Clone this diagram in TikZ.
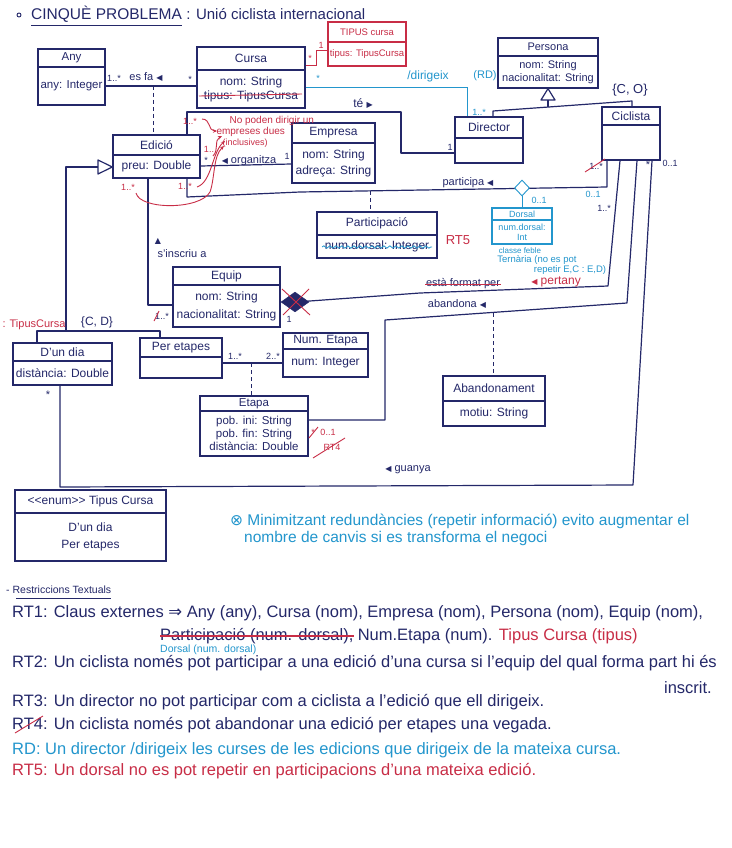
\documentclass[tikz,border=0pt]{standalone}
\usepackage{fontspec}
\setmainfont{Liberation Sans}
\newfontfamily\symf{DejaVu Sans}
\usetikzlibrary{fit,shapes.geometric,arrows.meta,decorations.pathmorphing}
\definecolor{ink}{RGB}{36,40,105}
\definecolor{redink}{RGB}{200,45,70}
\definecolor{cyanink}{RGB}{35,150,205}
\newcommand{\myBox}{\fontsize{12}{14}\selectfont}
\newcommand{\myLbl}{\fontsize{11}{13}\selectfont}
\newcommand{\myMult}{\fontsize{9}{10}\selectfont}
\newcommand{\myRT}{\fontsize{16.5}{18}\selectfont}
\newcommand{\tril}{{\symf\fontsize{8}{8}\selectfont ◀}}
\newcommand{\trir}{{\symf\fontsize{8}{8}\selectfont ▶}}
\newcommand{\triu}{{\symf\fontsize{8}{8}\selectfont ▲}}
\tikzset{
 conn/.style={draw=ink, line width=1.2pt, line join=round},
 rconn/.style={draw=redink, line width=0.9pt},
 cconn/.style={draw=cyanink, line width=0.9pt},
 assocdash/.style={draw=ink, line width=1pt, dash pattern=on 4pt off 3pt},
 lbl/.style={text=ink, font=\myLbl, inner sep=0.5pt},
 mult/.style={text=ink, font=\myMult, inner sep=0.5pt},
 rlbl/.style={text=redink, font=\myMult, inner sep=0.5pt},
 clbl/.style={text=cyanink, font=\myMult, inner sep=0.5pt},
 rtline/.style={text=ink, font=\myRT, anchor=west, inner sep=0pt},
 arr/.style={rconn, -{Stealth[length=4pt,width=3.5pt]}},
}
\newcommand{\umlclass}[9][ink]{%
  \node[draw=#1, line width=1.3pt, inner sep=0pt, fit={(#3,#4)(#5,#6)}] (#2) {};
  \draw[draw=#1, line width=1.2pt] (#3,#7) -- (#5,#7);
  \node[text=#1, font=\myBox, inner sep=0pt] (#2-t) at ({(#3+#5)/2},{(#4+#7)/2}) {#8};
  \node[text=#1, font=\myBox, align=center, inner sep=0pt] (#2-a) at ({(#3+#5)/2},{(#7+#6)/2}) {#9};
}
\begin{document}
\begin{tikzpicture}[x=1pt,y=-1pt]
\fill[white] (0,0) rectangle (731,848);
\useasboundingbox (0,0) rectangle (731,848);

% ---------- title
\node[circle, draw=ink, line width=0.9pt, minimum size=4pt, inner sep=0pt] (bul) at (19,15) {};
\node[anchor=west, text=ink, font=\fontsize{15.5}{17}\selectfont, inner sep=0pt] (ttl) at (31,14) {CINQUÈ PROBLEMA};
\draw[conn, line width=0.9pt] ([yshift=-3pt]ttl.south west) -- ([yshift=-3pt]ttl.south east);
\node[anchor=west, text=ink, font=\fontsize{15}{17}\selectfont, inner sep=0pt] (ttl2) at ([xshift=4pt]ttl.east) {: Unió ciclista internacional};

% ---------- classes
\begin{scope}
\renewcommand{\myBox}{\fontsize{11.5}{14}\selectfont}
\umlclass{Any}{38}{49}{105}{105}{67}{Any}{any: Integer}
\end{scope}
\umlclass{Cursa}{197}{47}{305}{108}{70}{Cursa}{nom: String\\tipus: TipusCursa}
\begin{scope}
\renewcommand{\myBox}{\fontsize{9.5}{11}\selectfont}
\umlclass[redink]{TipusC}{328}{22}{406}{66}{42}{TIPUS cursa}{tipus: TipusCursa}
\end{scope}
\begin{scope}
\renewcommand{\myBox}{\fontsize{11}{13}\selectfont}
\umlclass{Persona}{498}{38}{598}{88}{56}{Persona}{nom: String\\nacionalitat: String}
\end{scope}
\umlclass{Director}{455}{117}{523}{163}{138}{Director}{}
\umlclass{Ciclista}{602}{107}{660}{160}{125}{Ciclista}{}
\umlclass{Edicio}{113}{135}{200}{178}{155}{Edició}{preu: Double}
\umlclass{Empresa}{292}{123}{375}{183}{143}{Empresa}{nom: String\\[2pt]adreça: String}
\umlclass{Particip}{317}{212}{437}{258}{235}{Participació}{num.dorsal: Integer}
\begin{scope}
\renewcommand{\myBox}{\fontsize{9}{10}\selectfont}
\umlclass[cyanink]{Dorsal}{492}{208}{552}{244}{220}{Dorsal}{num.dorsal:\\Int}
\end{scope}
\umlclass{Equip}{173}{267}{280}{327}{285}{Equip}{nom: String\\[4pt]nacionalitat: String}
\umlclass{Dundia}{13}{343}{112}{385}{361}{D'un dia}{distància: Double}
\umlclass{Peretapes}{140}{338}{222}{378}{357}{Per etapes}{}
\umlclass{NumEtapa}{283}{333}{368}{377}{349}{Num. Etapa}{num: Integer}
\begin{scope}
\renewcommand{\myBox}{\fontsize{11.5}{13}\selectfont}
\umlclass{Etapa}{200}{396}{308}{456}{411}{Etapa}{pob. ini: String\\pob. fin: String\\distància: Double}
\end{scope}
\umlclass{Abandon}{443}{376}{545}{426}{401}{Abandonament}{motiu: String}
\begin{scope}
\renewcommand{\myBox}{\fontsize{12}{15}\selectfont}
\umlclass{Enum}{15}{490}{166}{561}{513}{<{}<enum>{}> Tipus Cursa}{D'un dia\\[2pt]Per etapes}
\end{scope}

% ---------- connectors
% Any - Cursa (es fa) with association class Edicio
\draw[conn] (Any.east |- 0,86) -- (Cursa.west |- 0,86);
\coordinate (esfa) at (153,86);
\draw[assocdash] (esfa) -- (Edicio.north -| esfa);
% Cursa - TipusCursa (red)
\draw[rconn] (Cursa.east |- 0,65) -- (316,65) -- (316,50) -- (TipusC.west |- 0,50);
% /dirigeix (cyan)
\draw[cconn] (Cursa.east |- 0,87) -- (467,87) -- (Director.north -| 467,0);
% generalization Persona
\draw[conn] (Director.north -| 493,0) -- (493,111) -- (632,101) -- (Ciclista.north -| 632,0);
\draw[conn] (548,100) -- (548,107);
\draw[conn, fill=white] (Persona.south -| 548,0) -- (541,100) -- (555,100) -- cycle;
% te
\draw[conn] (Edicio.north -| 187,0) -- (187,112) -- (401,112) -- (401,153) -- (Director.west |- 0,153);
% organitza
\draw[conn] (Edicio.east |- 0,166) -- (Empresa.west |- 0,164);
% participa
\draw[conn] (Edicio.south -| 187,0) -- (187,197) -- (300,192) -- (607,187) -- (Ciclista.south -| 607,0);
\draw[assocdash] (370,191) -- (Particip.north -| 370,0);
\node[diamond, draw=cyanink, line width=0.9pt, fill=white, minimum width=15pt, minimum height=16pt, inner sep=0pt] (dmd) at (522,188) {};
\draw[cconn] (dmd.south) -- (Dorsal.north -| dmd.south);
% s'inscriu a
\draw[conn] (Edicio.south -| 148,0) -- (148,305) -- (Equip.west |- 0,305);
% generalization Edicio
\draw[conn] (98,167) -- (66,167) -- (66,331);
\draw[conn] (Dundia.north -| 37,0) -- (37,331) -- (160,331) -- (Peretapes.north -| 160,0);
\draw[conn, fill=white] (Edicio.west |- 0,167) -- (98,160) -- (98,174) -- cycle;
% per etapes - num etapa
\draw[conn] (Peretapes.east |- 0,363) -- (NumEtapa.west |- 0,363);
\draw[assocdash] (251,363) -- (Etapa.north -| 251,0);
% abandona
\draw[conn] (Etapa.east |- 0,420) -- (385,420) -- (385,320) -- (627,303) -- (Ciclista.south -| 637,0);
\draw[assocdash] (493,313) -- (Abandon.north -| 493,0);
% esta format per / pertany
\draw[conn] (296,302) -- (420,293) -- (608,286) -- (Ciclista.south -| 620,0);
\node[diamond, draw=ink, fill=ink, minimum width=28pt, minimum height=20pt, inner sep=0pt] (comp) at (295,302) {};
\draw[rconn] (282,289) -- (310,315);
\draw[rconn] (283,315) -- (309,289);
% guanya
\draw[conn] (Dundia.south -| 60,0) -- (60,487) -- (633,485) -- (Ciclista.south -| 652,0);

% ---------- labels
\node[mult] (m1) at (114,78) {1..*};
\node[lbl] (esfal) at (146,77) {es fa \tril};
\node[mult] (m2) at (190,79) {*};
\node[rlbl] (m3) at (321,45) {1};
\node[rlbl] (m4) at (310,58) {*};
\draw[rconn] (199,96) -- (302,94);
\node[clbl] (m5) at (318,78) {*};
\node[text=cyanink, font=\fontsize{12}{14}\selectfont] (dirl) at (428,76) {/dirigeix};
\node[text=cyanink, font=\fontsize{11}{13}\selectfont] (rdl) at (485,76) {(RD)};
\node[clbl] (m6) at (479,112) {1..*};
\node[text=ink, font=\fontsize{13}{15}\selectfont] (co) at (630,90) {\{C, O\}};
\node[lbl, font=\fontsize{12}{14}\selectfont] (tel) at (363,104) {té \trir};
\node[mult] (m7) at (450,147) {1};
\node[rlbl] (m8) at (190,121) {1..*};
\node[text=redink, font=\fontsize{10}{12}\selectfont, anchor=west] (note1) at (226,121) {No poden dirigir un};
\node[text=redink, font=\fontsize{10}{12}\selectfont, anchor=west] (note2) at (213,132) {empreses dues};
\node[text=redink, font=\fontsize{9}{11}\selectfont, anchor=west] (note3) at (219,143) {(inclusives)};
\node[rlbl] (m9) at (209,149) {1..};
\node[mult] (m10) at (206,160) {*};
\node[lbl] (orgl) at (249,161) {\tril\ organitza};
\node[mult] (m11) at (287,156) {1};
\node[rlbl] (m12) at (185,186) {1..*};
\node[rlbl] (m13) at (128,187) {1..*};
\draw[arr] (202,119) .. controls (211,119) and (208,131) .. (217,131);
\draw[arr] (213,156) .. controls (219,150) and (214,140) .. (222,136);
\draw[arr] (197,187) .. controls (212,182) and (212,152) .. (225,141);
\draw[arr] (136,193) .. controls (140,210) and (200,210) .. (210,192) .. controls (215,178) and (213,156) .. (224,146);
\node[lbl] (partl) at (468,183) {participa \tril};
\node[mult] (m14) at (596,166) {1..*};
\draw[rconn] (585,172) -- (605,159);
\node[mult, font=\fontsize{11}{12}\selectfont] (m15) at (648,165) {*};
\node[mult] (m16) at (670,163) {0..1};
\node[clbl] (m17) at (593,194) {0..1};
\node[clbl] (m18) at (539,200) {0..1};
\node[mult] (m19) at (604,208) {1..*};
\node[text=redink, font=\fontsize{13}{15}\selectfont] (rt5l) at (458,240) {RT5};
\draw[cyanink, line width=0.8pt, decorate, decoration={snake, amplitude=1.2pt, segment length=6pt}] (322,247) -- (432,247);
\node[text=cyanink, font=\fontsize{8}{9}\selectfont] (feble) at (520,251) {classe feble};
\node[text=cyanink, font=\fontsize{9.5}{10}\selectfont] (tern1) at (537,260) {Ternària (no es pot};
\node[text=cyanink, font=\fontsize{9.5}{10}\selectfont] (tern2) at (570,270) {repetir E,C : E,D)};
\node[lbl] (triu) at (158,241) {\triu};
\node[lbl] (inscl) at (182,254) {s'inscriu a};
\node[mult] (m20) at (162,316) {1..*};
\draw[rconn] (154,321) -- (159,311);
\node[mult] (m21) at (289,319) {1};
\node[lbl] (forml) at (463,284) {està format per};
\draw[rconn] (forml.west) -- (forml.east);
\node[text=redink, font=\fontsize{12}{14}\selectfont] (pertl) at (556,282) {\tril\ pertany};
\node[lbl] (abandl) at (457,304) {abandona \tril};
\node[text=redink, font=\myLbl] (tcl) at (34,325) {: TipusCursa};
\node[text=ink, font=\fontsize{12}{14}\selectfont] (cd) at (97,322) {\{C, D\}};
\node[mult] (m22) at (235,356) {1..*};
\node[mult] (m23) at (273,356) {2..*};
\node[mult, font=\fontsize{11}{12}\selectfont] (m24) at (48,395) {*};
\node[rlbl] (m25) at (313,432) {*};
\node[rlbl] (m26) at (328,432) {0..1};
\draw[rconn] (309,438) -- (318,427);
\node[rlbl] (m27) at (332,447) {RT4};
\draw[rconn] (313,458) -- (345,438);
\node[lbl] (guanl) at (408,470) {\tril\ guanya};

% ---------- note
\node[text=cyanink, font=\fontsize{15.5}{17}\selectfont, anchor=west, inner sep=0pt] (note4) at (230,521) {{\symf ⊗} Minimitzant redundàncies (repetir informació) evito augmentar el};
\node[text=cyanink, font=\fontsize{15.5}{17}\selectfont, anchor=west, inner sep=0pt] (note5) at (244,538) {nombre de canvis si es transforma el negoci};

% ---------- textual restrictions
\node[anchor=west, text=ink, font=\fontsize{10.5}{12}\selectfont, inner sep=0pt] (rtt) at (6,590) {- Restriccions Textuals};
\draw[conn, line width=0.8pt] (16,598) -- (rtt.south east |- 0,598);
\node[rtline] (rt1) at (12,613) {RT1: Claus externes {\symf ⇒} Any (any), Cursa (nom), Empresa (nom), Persona (nom), Equip (nom),};
\node[rtline] (rt1b) at (160,636) {Participació (num. dorsal),};
\draw[rconn, line width=1.1pt] (rt1b.west) -- (rt1b.east);
\node[rtline] (rt1c) at ([xshift=4pt]rt1b.east) {Num.Etapa (num).};
\node[rtline, text=redink] (rt1d) at ([xshift=6pt]rt1c.east) {Tipus Cursa (tipus)};
\node[rtline, text=cyanink, font=\fontsize{10.5}{12}\selectfont] (rt1e) at (160,650) {Dorsal (num. dorsal)};
\node[rtline] (rt2) at (12,663) {RT2: Un ciclista només pot participar a una edició d'una cursa si l'equip del qual forma part hi és};
\node[rtline, anchor=east] (rt2b) at (712,688) {inscrit.};
\node[rtline] (rt3) at (12,702) {RT3: Un director no pot participar com a ciclista a l'edició que ell dirigeix.};
\node[rtline] (rt4) at (12,725) {RT4: Un ciclista només pot abandonar una edició per etapes una vegada.};
\draw[rconn] (15,733) -- (43,716);
\node[rtline, text=cyanink] (rd) at (12,750) {RD: Un director /dirigeix les curses de les edicions que dirigeix de la mateixa cursa.};
\node[rtline, text=redink] (rt5) at (12,771) {RT5: Un dorsal no es pot repetir en participacions d'una mateixa edició.};
\end{tikzpicture}
\end{document}
